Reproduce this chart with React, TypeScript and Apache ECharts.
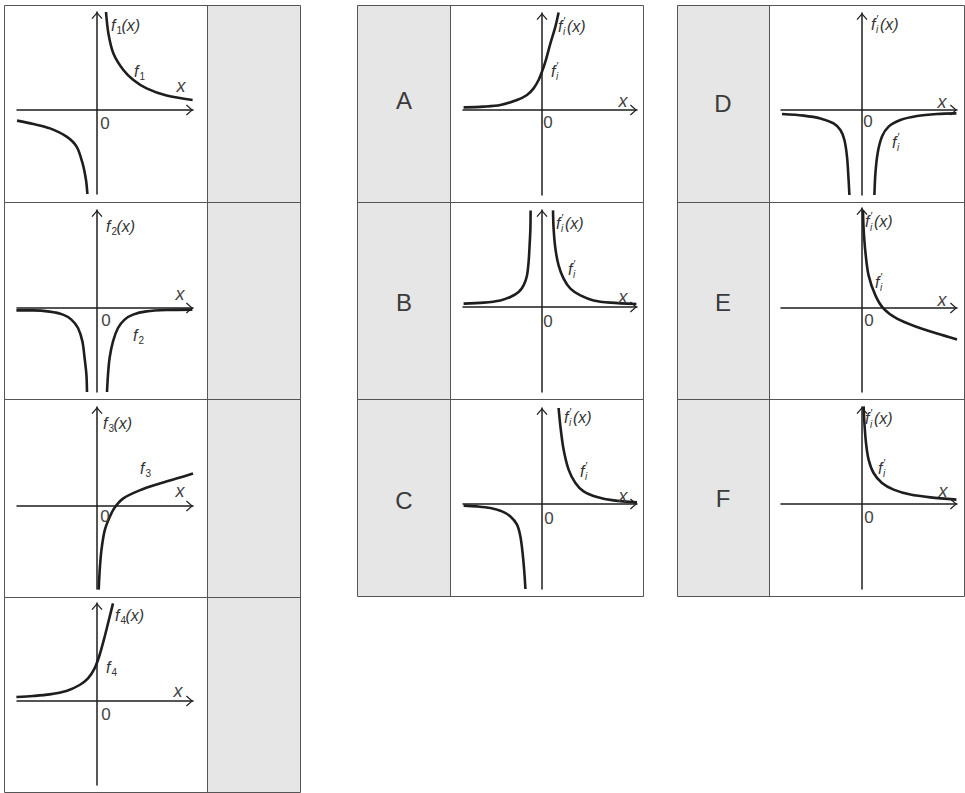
import React, { useEffect, useRef } from "react";
import * as echarts from "echarts";

type Pt = [number, number];

// Curve samples in axis units (x, y)
const f1Left: Pt[] = [[-4.0, -0.53], [-3.18, -0.7], [-2.35, -0.92], [-1.52, -1.33], [-1.02, -1.83], [-0.72, -2.67], [-0.55, -3.5], [-0.48, -4.2]];
const f1Right: Pt[] = [[0.45, 4.9], [0.57, 3.83], [0.82, 2.83], [1.32, 2.0], [1.82, 1.5], [2.48, 1.08], [3.48, 0.72], [4.78, 0.5]];
const f2Left: Pt[] = [[-4.03, -0.12], [-3.2, -0.12], [-2.37, -0.18], [-1.7, -0.33], [-1.28, -0.58], [-0.95, -1.0], [-0.73, -1.67], [-0.62, -2.5], [-0.53, -3.33], [-0.5, -4.2]];
const f2Right: Pt[] = [[0.5, -4.2], [0.55, -3.33], [0.63, -2.5], [0.8, -1.67], [1.05, -1.0], [1.38, -0.58], [1.8, -0.33], [2.47, -0.17], [3.47, -0.1], [4.77, -0.08]];
const f3: Pt[] = [[0.085, -4.18], [0.135, -3.22], [0.22, -2.22], [0.385, -1.22], [0.635, -0.55], [0.885, -0.08], [1.3, 0.37], [2.13, 0.78], [3.13, 1.12], [3.97, 1.37], [4.8, 1.62]];
const f4: Pt[] = [[-4.03, 0.2], [-3.2, 0.25], [-2.37, 0.33], [-1.53, 0.5], [-0.87, 0.8], [-0.45, 1.13], [-0.12, 1.63], [0.13, 2.3], [0.38, 3.2], [0.63, 4.2], [0.8, 4.88]];
const dA: Pt[] = [[-3.92, 0.13], [-2.92, 0.17], [-2.08, 0.25], [-1.25, 0.5], [-0.75, 0.75], [-0.42, 1.08], [-0.17, 1.5], [0, 1.92], [0.17, 2.42], [0.42, 3.33], [0.67, 4.17], [0.83, 4.87]];
const dBLeft: Pt[] = [[-3.92, 0.17], [-2.92, 0.22], [-2.08, 0.33], [-1.58, 0.5], [-1.17, 0.75], [-0.92, 1.08], [-0.75, 1.58], [-0.67, 2.25], [-0.62, 3.08], [-0.58, 3.92], [-0.57, 4.83]];
const dBRight: Pt[] = [[0.55, 4.83], [0.58, 3.92], [0.67, 2.92], [0.83, 2.08], [1.08, 1.42], [1.42, 0.92], [1.92, 0.58], [2.58, 0.33], [3.42, 0.22], [4.72, 0.15]];
const dCLeft: Pt[] = [[-3.92, -0.08], [-3.25, -0.12], [-2.58, -0.2], [-2.0, -0.37], [-1.58, -0.62], [-1.25, -1.03], [-1.08, -1.62], [-0.97, -2.45], [-0.88, -3.45], [-0.83, -4.25]];
const dCRight: Pt[] = [[0.83, 4.8], [0.92, 3.88], [1.08, 2.72], [1.33, 1.72], [1.67, 1.05], [2.08, 0.63], [2.75, 0.35], [3.58, 0.18], [4.75, 0.08]];
const dDLeft: Pt[] = [[-4.0, -0.2], [-2.92, -0.28], [-2.08, -0.42], [-1.42, -0.67], [-1.08, -1.0], [-0.88, -1.5], [-0.75, -2.33], [-0.67, -3.5], [-0.63, -4.25]];
const dDRight: Pt[] = [[0.62, -4.25], [0.67, -3.17], [0.78, -2.17], [1.0, -1.33], [1.33, -0.83], [1.92, -0.5], [2.75, -0.3], [3.75, -0.2], [4.72, -0.17]];
const dE: Pt[] = [[0.05, 4.88], [0.08, 3.97], [0.17, 2.8], [0.33, 1.63], [0.67, 0.63], [1.08, -0.03], [1.75, -0.53], [2.75, -0.95], [3.75, -1.28], [4.75, -1.57]];
const dF: Pt[] = [[0.08, 4.88], [0.12, 4.05], [0.2, 3.05], [0.33, 2.22], [0.58, 1.55], [1.0, 1.05], [1.58, 0.72], [2.42, 0.47], [3.42, 0.33], [4.72, 0.22]];

// Which panel each curve branch belongs to
const curves: { panel: number; data: Pt[] }[] = [
  { panel: 0, data: f1Left }, { panel: 0, data: f1Right },
  { panel: 1, data: f2Left }, { panel: 1, data: f2Right },
  { panel: 2, data: f3 },
  { panel: 3, data: f4 },
  { panel: 4, data: dA },
  { panel: 5, data: dBLeft }, { panel: 5, data: dBRight },
  { panel: 6, data: dCLeft }, { panel: 6, data: dCRight },
  { panel: 7, data: dDLeft }, { panel: 7, data: dDRight },
  { panel: 8, data: dE },
  { panel: 9, data: dF },
];

const choiceLetters = ["A", "B", "C", "D", "E", "F"];
const funcIndices = ["1", "2", "3", "4"];

// ---- layout (page pixels) ----
const PX = 20; // pixels per axis unit
// origin (ox, oy) and axis ends: left, right (arrow tip), top (arrow tip), bottom
const frames = [
  { ox: 97, oy: 110, l: 17, r: 193, t: 12, b: 194 },
  { ox: 97, oy: 308, l: 17, r: 193, t: 210, b: 392 },
  { ox: 97, oy: 506, l: 17, r: 193, t: 407, b: 589 },
  { ox: 97, oy: 701, l: 17, r: 193, t: 603, b: 785 },
  { ox: 542, oy: 110, l: 463, r: 637, t: 13, b: 195 },
  { ox: 542, oy: 307, l: 463, r: 637, t: 210, b: 392 },
  { ox: 542, oy: 504, l: 463, r: 637, t: 408, b: 589 },
  { ox: 862, oy: 110, l: 781, r: 957, t: 13, b: 195 },
  { ox: 862, oy: 308, l: 781, r: 957, t: 208, b: 392 },
  { ox: 862, oy: 504, l: 781, r: 957, t: 407, b: 589 },
];

// text placement per panel: function label, curve label, x label, origin label
const textPos = [
  { fn: [111, 25], cv: [134, 71], xl: [181, 86], zero: [105, 123.5] },
  { fn: [106, 226], cv: [133, 335], xl: [180, 293.5], zero: [106, 320.5] },
  { fn: [103, 423], cv: [140, 468.5], xl: [180, 490.5], zero: [105, 516.5] },
  { fn: [115, 615], cv: [106, 667], xl: [178, 691], zero: [106, 714] },
  { fn: [558, 26], cv: [551, 71], xl: [623, 101], zero: [548, 122] },
  { fn: [556, 223], cv: [568, 269], xl: [623, 297], zero: [548, 321] },
  { fn: [564, 417], cv: [580, 471], xl: [623, 496], zero: [549, 518] },
  { fn: [871, 24], cv: [892, 142], xl: [942, 102], zero: [868, 121.5] },
  { fn: [865, 221.5], cv: [875, 282], xl: [942, 300], zero: [869, 320] },
  { fn: [865, 418.5], cv: [878, 468], xl: [943, 490.5], zero: [869, 517.5] },
];
const letterPos = [[404, 100], [404, 302], [404, 500], [723, 103], [723, 302], [723, 498]];

const FONT = '"Liberation Sans", Arial, "DejaVu Sans", sans-serif';
const INK = "#1e1e1e";
const TXT = "#333";
const GRID_LINE = "#555";
const SHADE = "#e6e6e6";
const ARROW = "path://M5.5,0L11,6.2L10,7L5.5,1.8L1,7L0,6.2Z";

function txt(x: number, y: number, text: string, size: number, opts: any = {}) {
  return {
    type: "text",
    x,
    y,
    z: 100,
    silent: true,
    style: {
      text,
      fontFamily: FONT,
      fontSize: size,
      fontStyle: opts.italic ? "italic" : "normal",
      fill: opts.fill || TXT,
      align: opts.align || "left",
      textAlign: opts.align || "left",
      verticalAlign: "middle",
      textVerticalAlign: "middle",
    },
  };
}

// "f" with subscript (and optional prime), optionally followed by "(x)"
function fLabel(x: number, y: number, sub: string, prime: boolean, withArg: boolean) {
  const out: any[] = [txt(x, y, "f", 16, { italic: true })];
  if (prime) {
    out.push(txt(x + 5.5, y - 5.5, "\u2032", 11));
    out.push(txt(x + 5, y + 5.5, sub, 10, { italic: true }));
    if (withArg) out.push(txt(x + 9, y, "(x)", 16, { italic: true }));
  } else {
    out.push(txt(x + 5.5, y + 5, sub, 10));
    if (withArg) out.push(txt(x + 10.5, y, "(x)", 16, { italic: true }));
  }
  return out;
}

// bordered table: outer box, one column divider, row dividers, shaded column
function tableFrame(x0: number, x1: number, xs: number, ys: number[], shade: [number, number]) {
  const els: any[] = [];
  const top = ys[0];
  const bottom = ys[ys.length - 1];
  els.push({ type: "rect", z: 0, silent: true, shape: { x: shade[0], y: top, width: shade[1] - shade[0], height: bottom - top }, style: { fill: SHADE } });
  els.push({ type: "rect", z: 1, silent: true, shape: { x: x0 + 0.5, y: top + 0.5, width: x1 - x0, height: bottom - top }, style: { fill: "none", stroke: GRID_LINE, lineWidth: 1 } });
  els.push({ type: "line", z: 1, silent: true, shape: { x1: xs + 0.5, y1: top, x2: xs + 0.5, y2: bottom }, style: { stroke: GRID_LINE, lineWidth: 1 } });
  for (let i = 1; i < ys.length - 1; i++) {
    els.push({ type: "line", z: 1, silent: true, shape: { x1: x0, y1: ys[i] + 0.5, x2: x1, y2: ys[i] + 0.5 }, style: { stroke: GRID_LINE, lineWidth: 1 } });
  }
  return els;
}

function buildOption() {
  const axisLine = {
    onZero: true,
    lineStyle: { color: INK, width: 1.5 },
    symbol: ["none", ARROW],
    symbolSize: [11, 7],
    symbolOffset: [0, -3.5],
  };
  const hidden = {
    axisTick: { show: false },
    axisLabel: { show: false },
    splitLine: { show: false },
  };

  const grid = frames.map((f) => ({ left: f.l, top: f.t, width: f.r - f.l, height: f.b - f.t, containLabel: false }));
  const xAxis = frames.map((f, i) => ({
    type: "value", gridIndex: i,
    min: (f.l - f.ox) / PX, max: (f.r - f.ox) / PX,
    axisLine, ...hidden,
  }));
  const yAxis = frames.map((f, i) => ({
    type: "value", gridIndex: i,
    min: (f.oy - f.b) / PX, max: (f.oy - f.t) / PX,
    axisLine, ...hidden,
  }));
  const series = curves.map((c) => ({
    type: "line",
    xAxisIndex: c.panel,
    yAxisIndex: c.panel,
    data: c.data,
    showSymbol: false,
    smooth: 0.3,
    silent: true,
    clip: true,
    lineStyle: { color: INK, width: 2.6 },
  }));

  const graphics: any[] = [];
  graphics.push(...tableFrame(4, 300, 207, [5, 202, 399, 597, 792], [207, 300]));
  graphics.push(...tableFrame(357, 643, 450, [5, 202, 399, 596], [357, 450]));
  graphics.push(...tableFrame(677, 964, 769, [5, 202, 399, 596], [677, 769]));

  textPos.forEach((p, i) => {
    const isFunc = i < 4;
    const sub = isFunc ? funcIndices[i] : "i";
    graphics.push(...fLabel(p.fn[0], p.fn[1], sub, !isFunc, true));
    graphics.push(...fLabel(p.cv[0], p.cv[1], sub, !isFunc, false));
    graphics.push(txt(p.xl[0], p.xl[1], "x", 18, { italic: true, align: "center", fill: "#444" }));
    graphics.push(txt(p.zero[0], p.zero[1], "0", 17, { align: "center", fill: "#444" }));
  });
  choiceLetters.forEach((c, i) => {
    graphics.push(txt(letterPos[i][0], letterPos[i][1], c, 24, { align: "center", fill: "#3a3a3a" }));
  });

  return {
    animation: false,
    backgroundColor: "#ffffff",
    grid,
    xAxis,
    yAxis,
    series,
    graphic: { elements: graphics },
  };
}

export default function App() {
  const ref = useRef<HTMLDivElement>(null);
  useEffect(() => {
    if (!ref.current) return;
    const chart = echarts.init(ref.current, undefined, { renderer: "svg" });
    chart.setOption(buildOption() as any);
    return () => chart.dispose();
  }, []);
  return (
    <div
      ref={ref}
      style={{ position: "absolute", left: 0, top: 0, width: 965, height: 793 }}
    />
  );
}
